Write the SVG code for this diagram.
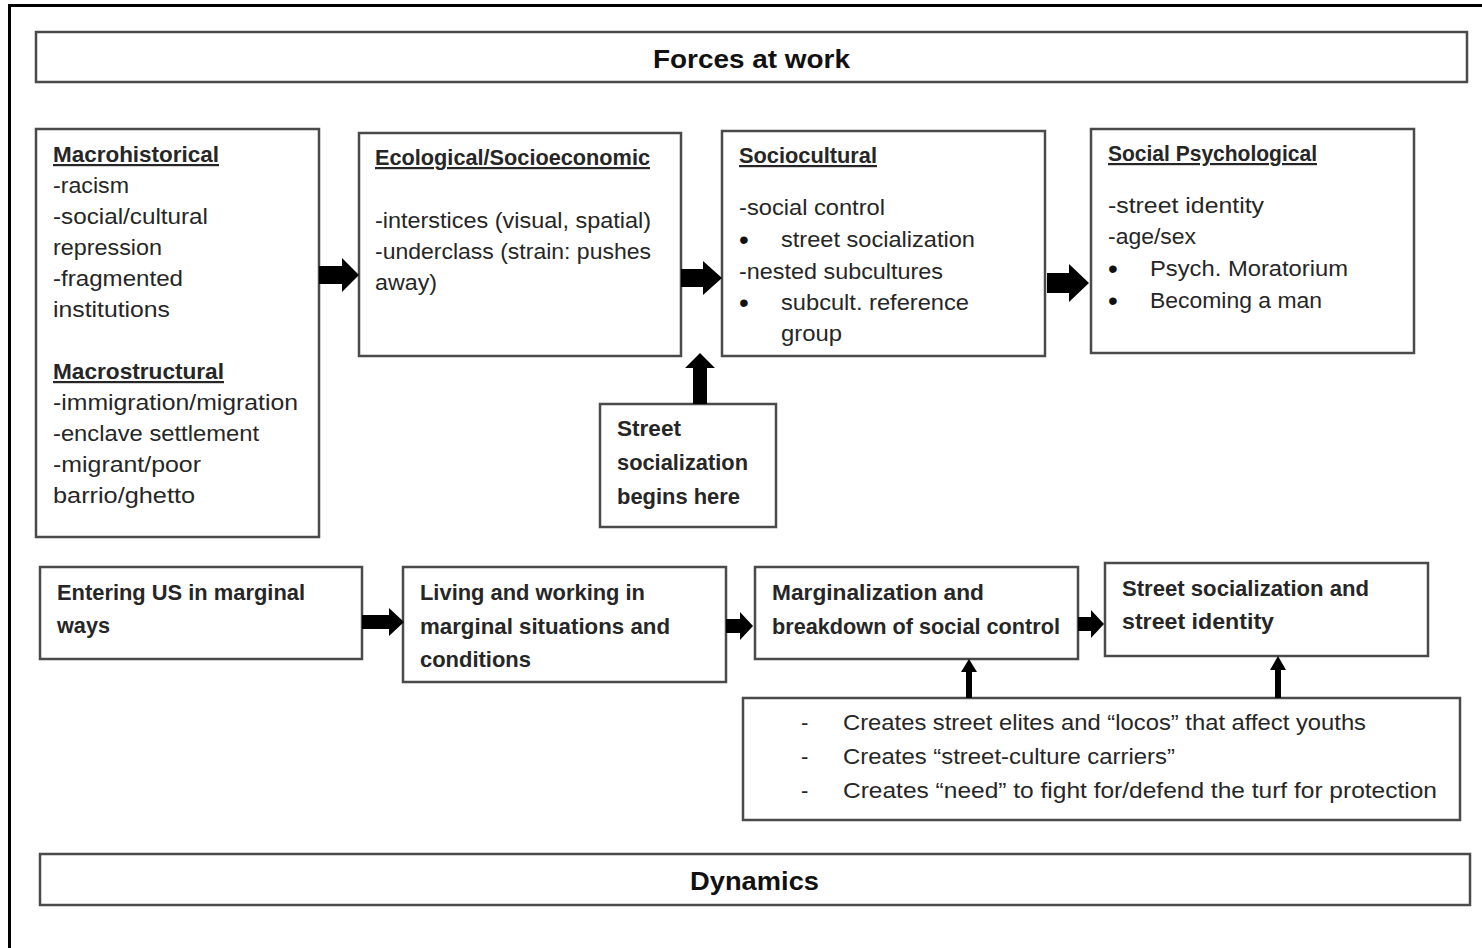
<svg xmlns="http://www.w3.org/2000/svg" width="1482" height="948" viewBox="0 0 1482 948">
<style>
.box{fill:#fff;stroke:#4a4a4a;stroke-width:2.5}
text{font-family:"Liberation Sans",Arial,sans-serif;fill:#262626;font-size:22px}
.b{font-weight:bold}
.u{font-weight:bold;text-decoration:underline}
.t{font-weight:bold;font-size:26px;fill:#111}
.bul{font-size:28px;fill:#111}
.arr{fill:#000}
</style>
<rect width="1482" height="948" fill="#fff"/>
<path d="M9.5,948 V5.5 H1482" fill="none" stroke="#000" stroke-width="3"/>

<g id="forces">
<rect class="box" x="36" y="32" width="1431" height="50"/>
<text class="t" x="653" y="68" textLength="197" lengthAdjust="spacingAndGlyphs">Forces at work</text>
</g>

<g id="macro">
<rect class="box" x="36" y="129" width="283" height="408"/>
<text class="u" x="53" y="162" textLength="166" lengthAdjust="spacingAndGlyphs">Macrohistorical</text>
<text x="53" y="193" textLength="76" lengthAdjust="spacingAndGlyphs">-racism</text>
<text x="53" y="224" textLength="155" lengthAdjust="spacingAndGlyphs">-social/cultural</text>
<text x="53" y="255" textLength="109" lengthAdjust="spacingAndGlyphs">repression</text>
<text x="53" y="286" textLength="130" lengthAdjust="spacingAndGlyphs">-fragmented</text>
<text x="53" y="317" textLength="117" lengthAdjust="spacingAndGlyphs">institutions</text>
<text class="u" x="53" y="379" textLength="171" lengthAdjust="spacingAndGlyphs">Macrostructural</text>
<text x="53" y="410" textLength="245" lengthAdjust="spacingAndGlyphs">-immigration/migration</text>
<text x="53" y="441" textLength="206" lengthAdjust="spacingAndGlyphs">-enclave settlement</text>
<text x="53" y="472" textLength="148" lengthAdjust="spacingAndGlyphs">-migrant/poor</text>
<text x="53" y="503" textLength="142" lengthAdjust="spacingAndGlyphs">barrio/ghetto</text>
</g>

<g id="eco">
<rect class="box" x="359" y="133" width="322" height="223"/>
<text class="u" x="375" y="165" textLength="275" lengthAdjust="spacingAndGlyphs">Ecological/Socioeconomic</text>
<text x="375" y="228" textLength="276" lengthAdjust="spacingAndGlyphs">-interstices (visual, spatial)</text>
<text x="375" y="259" textLength="276" lengthAdjust="spacingAndGlyphs">-underclass (strain: pushes</text>
<text x="375" y="290" textLength="62" lengthAdjust="spacingAndGlyphs">away)</text>
</g>

<g id="socio">
<rect class="box" x="722" y="131" width="323" height="225"/>
<text class="u" x="739" y="163" textLength="138" lengthAdjust="spacingAndGlyphs">Sociocultural</text>
<text x="739" y="215" textLength="146" lengthAdjust="spacingAndGlyphs">-social control</text>
<text class="bul" x="739" y="249">•</text>
<text x="781" y="247" textLength="194" lengthAdjust="spacingAndGlyphs">street socialization</text>
<text x="739" y="279" textLength="204" lengthAdjust="spacingAndGlyphs">-nested subcultures</text>
<text class="bul" x="739" y="312">•</text>
<text x="781" y="310" textLength="188" lengthAdjust="spacingAndGlyphs">subcult. reference</text>
<text x="781" y="341" textLength="61" lengthAdjust="spacingAndGlyphs">group</text>
</g>

<g id="socpsych">
<rect class="box" x="1091" y="129" width="323" height="224"/>
<text class="u" x="1108" y="161" textLength="209" lengthAdjust="spacingAndGlyphs">Social Psychological</text>
<text x="1108" y="213" textLength="156" lengthAdjust="spacingAndGlyphs">-street identity</text>
<text x="1108" y="244" textLength="88" lengthAdjust="spacingAndGlyphs">-age/sex</text>
<text class="bul" x="1108" y="278">•</text>
<text x="1150" y="276" textLength="198" lengthAdjust="spacingAndGlyphs">Psych. Moratorium</text>
<text class="bul" x="1108" y="310">•</text>
<text x="1150" y="308" textLength="172" lengthAdjust="spacingAndGlyphs">Becoming a man</text>
</g>

<g id="begins">
<rect class="box" x="600" y="404" width="176" height="123"/>
<text class="b" x="617" y="436" textLength="64" lengthAdjust="spacingAndGlyphs">Street</text>
<text class="b" x="617" y="470" textLength="131" lengthAdjust="spacingAndGlyphs">socialization</text>
<text class="b" x="617" y="504" textLength="123" lengthAdjust="spacingAndGlyphs">begins here</text>
</g>

<g id="entering">
<rect class="box" x="40" y="567" width="322" height="92"/>
<text class="b" x="57" y="600" textLength="248" lengthAdjust="spacingAndGlyphs">Entering US in marginal</text>
<text class="b" x="57" y="633" textLength="53" lengthAdjust="spacingAndGlyphs">ways</text>
</g>

<g id="living">
<rect class="box" x="403" y="567" width="323" height="115"/>
<text class="b" x="420" y="600" textLength="225" lengthAdjust="spacingAndGlyphs">Living and working in</text>
<text class="b" x="420" y="634" textLength="250" lengthAdjust="spacingAndGlyphs">marginal situations and</text>
<text class="b" x="420" y="667" textLength="111" lengthAdjust="spacingAndGlyphs">conditions</text>
</g>

<g id="marginalization">
<rect class="box" x="755" y="567" width="323" height="92"/>
<text class="b" x="772" y="600" textLength="212" lengthAdjust="spacingAndGlyphs">Marginalization and</text>
<text class="b" x="772" y="634" textLength="288" lengthAdjust="spacingAndGlyphs">breakdown of social control</text>
</g>

<g id="streetidentity">
<rect class="box" x="1105" y="563" width="323" height="93"/>
<text class="b" x="1122" y="596" textLength="247" lengthAdjust="spacingAndGlyphs">Street socialization and</text>
<text class="b" x="1122" y="629" textLength="152" lengthAdjust="spacingAndGlyphs">street identity</text>
</g>

<g id="creates">
<rect class="box" x="743" y="698" width="717" height="122"/>
<text x="801" y="730">-</text>
<text x="843" y="730" textLength="523" lengthAdjust="spacingAndGlyphs">Creates street elites and “locos” that affect youths</text>
<text x="801" y="764">-</text>
<text x="843" y="764" textLength="332" lengthAdjust="spacingAndGlyphs">Creates “street-culture carriers”</text>
<text x="801" y="798">-</text>
<text x="843" y="798" textLength="594" lengthAdjust="spacingAndGlyphs">Creates “need” to fight for/defend the turf for protection</text>
</g>

<g id="dynamics">
<rect class="box" x="40" y="854" width="1430" height="51"/>
<text class="t" x="690" y="890" textLength="129" lengthAdjust="spacingAndGlyphs">Dynamics</text>
</g>

<g id="connectors">
<polygon class="arr" points="319,266 342,266 342,258 359,275 342,292 342,284 319,284"/>
<polygon class="arr" points="681,269 703,269 703,261 722,278 703,295 703,287 681,287"/>
<polygon class="arr" points="1047,273 1069,273 1069,264 1089,283 1069,302 1069,293 1047,293"/>
<polygon class="arr" points="693,404 693,368 685,368 700,353 715,368 707,368 707,404"/>
<polygon class="arr" points="362,615 389,615 389,608 404,622 389,636 389,629 362,629"/>
<polygon class="arr" points="726,619 740,619 740,612 753,626 740,640 740,633 726,633"/>
<polygon class="arr" points="1078,617 1091,617 1091,610 1104,624 1091,638 1091,631 1078,631"/>
<polygon class="arr" points="966,698 966,672 961,672 969,659 977,672 972,672 972,698"/>
<polygon class="arr" points="1275,698 1275,670 1270,670 1278,656 1286,670 1281,670 1281,698"/>
</g>
</svg>
